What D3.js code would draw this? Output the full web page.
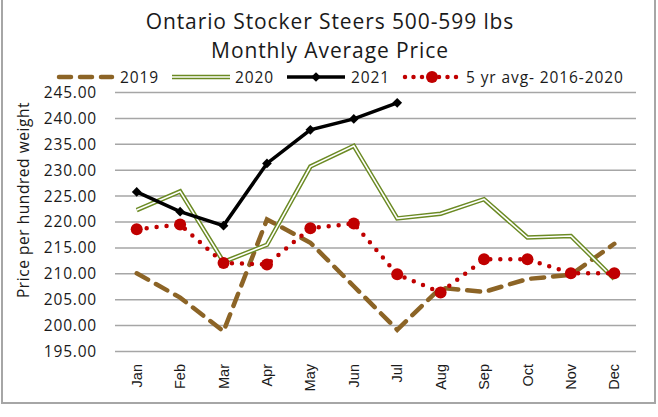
<!DOCTYPE html>
<html>
<head>
<meta charset="utf-8">
<script src="https://cdn.jsdelivr.net/npm/d3@7"></script>
<style>
  body { margin: 0; background: #fff; }
  svg { display: block; font-family: "Open Sans", sans-serif; }
</style>
</head>
<body>
<svg id="chart" width="658" height="417"></svg>
<script>
const months = ["Jan", "Feb", "Mar", "Apr", "May", "Jun", "Jul", "Aug", "Sep", "Oct", "Nov", "Dec"];
const yTicks = [195, 200, 205, 210, 215, 220, 225, 230, 235, 240, 245];
const y2019 = [210.1, 205.4, 198.9, 220.5, 216.0, 207.6, 199.2, 207.3, 206.5, 209.0, 209.8, 215.8];
const y2020 = [222.3, 225.9, 212.3, 215.6, 230.7, 234.7, 220.7, 221.6, 224.4, 217.0, 217.3, 209.0];
const y2021 = [225.8, 222.0, 219.3, 231.3, 237.8, 239.9, 243.0];
const yAvg = [218.6, 219.5, 212.1, 211.8, 218.8, 219.7, 209.9, 206.4, 212.8, 212.8, 210.1, 210.1];

const svg = d3.select("#chart");
const W = 658, H = 417;
const plot = { left: 115, right: 636, top: 92.5, bottom: 351.5 };
const font = "'Open Sans', sans-serif";

const x = d3.scaleBand().domain(months).range([plot.left, plot.right]);
const y = d3.scaleLinear().domain([195, 245]).range([plot.bottom, plot.top]);
const cx = m => x(m) + x.bandwidth() / 2;

// outer frame
svg.append("rect")
  .attr("x", 2).attr("y", -4).attr("width", W - 5).attr("height", 407)
  .attr("fill", "none").attr("stroke", "#a6a6a6").attr("stroke-width", 2);

// title
const title = svg.append("text").attr("text-anchor", "middle").attr("font-size", 21)
  .attr("letter-spacing", 0.9).attr("fill", "#1a1a1a");
title.append("tspan").attr("x", 330).attr("y", 29).text("Ontario Stocker Steers 500-599 lbs");
title.append("tspan").attr("x", 330).attr("y", 58).text("Monthly Average Price");

// gridlines
svg.append("g").selectAll("line").data(yTicks).join("line")
  .attr("x1", plot.left).attr("x2", plot.right)
  .attr("y1", d => y(d)).attr("y2", d => y(d))
  .attr("stroke", "#a6a6a6").attr("stroke-width", 1.5);

// y axis labels
const yAxis = svg.append("g")
  .attr("transform", `translate(${plot.left - 18},0)`)
  .call(d3.axisLeft(y).tickValues(yTicks).tickFormat(d3.format(".2f")).tickSize(0).tickPadding(0));
yAxis.select(".domain").remove();
yAxis.selectAll("text").attr("font-size", 15.5).attr("letter-spacing", 0.8)
  .attr("fill", "#1a1a1a").attr("font-family", font);

// x axis labels
const xAxis = svg.append("g")
  .attr("transform", `translate(0,${plot.bottom})`)
  .call(d3.axisBottom(x).tickSize(0).tickPadding(0));
xAxis.select(".domain").remove();
xAxis.selectAll("text")
  .attr("transform", "rotate(-90)")
  .attr("x", -12.5).attr("y", 0).attr("dy", "0.35em")
  .attr("text-anchor", "end")
  .attr("font-size", 14.5).attr("fill", "#1a1a1a").attr("font-family", "'Liberation Sans', Arial, sans-serif");

// y axis title
svg.append("text")
  .attr("transform", "translate(29,200) rotate(-90)")
  .attr("text-anchor", "middle").attr("font-size", 15.5).attr("letter-spacing", 0.55).attr("fill", "#1a1a1a")
  .text("Price per hundred weight");

const line = d3.line().x((d, i) => cx(months[i])).y(d => y(d));

// 2019 dashed
svg.append("path").attr("d", line(y2019))
  .attr("fill", "none").attr("stroke", "#8c6426").attr("stroke-width", 4.5)
  .attr("stroke-dasharray", "13 9").attr("stroke-linecap", "round");

// 2020 double line
svg.append("path").attr("d", line(y2020))
  .attr("fill", "none").attr("stroke", "#6b8a23").attr("stroke-width", 4.5);
svg.append("path").attr("d", line(y2020))
  .attr("fill", "none").attr("stroke", "#fff").attr("stroke-width", 1.6);

// 5 yr avg dotted with circles
svg.append("path").attr("d", line(yAvg))
  .attr("fill", "none").attr("stroke", "#c00000").attr("stroke-width", 4.5)
  .attr("stroke-dasharray", "0 10").attr("stroke-linecap", "round");
svg.append("g").selectAll("circle").data(yAvg).join("circle")
  .attr("cx", (d, i) => cx(months[i])).attr("cy", d => y(d)).attr("r", 6)
  .attr("fill", "#c00000");

// 2021 black with diamonds
svg.append("path").attr("d", line(y2021))
  .attr("fill", "none").attr("stroke", "#000").attr("stroke-width", 3.5);
const diamond = d3.symbol().type(d3.symbolDiamond2).size(60);
svg.append("g").selectAll("path").data(y2021).join("path")
  .attr("transform", (d, i) => `translate(${cx(months[i])},${y(d)})`)
  .attr("d", diamond).attr("fill", "#000");

// legend
const lg = svg.append("g").attr("font-size", 15.5).attr("letter-spacing", 0.9).attr("fill", "#1a1a1a");
const ly = 77;
lg.append("line").attr("x1", 59).attr("x2", 112).attr("y1", ly).attr("y2", ly)
  .attr("stroke", "#8c6426").attr("stroke-width", 4.5).attr("stroke-dasharray", "12 9").attr("stroke-linecap", "round");
lg.append("text").attr("x", 120).attr("y", ly + 5.5).text("2019");
lg.append("line").attr("x1", 172).attr("x2", 230).attr("y1", ly).attr("y2", ly)
  .attr("stroke", "#6b8a23").attr("stroke-width", 4.5);
lg.append("line").attr("x1", 172).attr("x2", 230).attr("y1", ly).attr("y2", ly)
  .attr("stroke", "#fff").attr("stroke-width", 1.6);
lg.append("text").attr("x", 235).attr("y", ly + 5.5).text("2020");
lg.append("line").attr("x1", 287).attr("x2", 345).attr("y1", ly).attr("y2", ly)
  .attr("stroke", "#000").attr("stroke-width", 3.5);
lg.append("path").attr("transform", `translate(316,${ly})`).attr("d", diamond).attr("fill", "#000");
lg.append("text").attr("x", 351).attr("y", ly + 5.5).text("2021");
lg.append("line").attr("x1", 405).attr("x2", 460).attr("y1", ly).attr("y2", ly)
  .attr("stroke", "#c00000").attr("stroke-width", 4.5).attr("stroke-dasharray", "0 8.5").attr("stroke-linecap", "round");
lg.append("circle").attr("cx", 432).attr("cy", ly).attr("r", 6).attr("fill", "#c00000");
lg.append("text").attr("x", 466).attr("y", ly + 5.5).text("5 yr avg- 2016-2020");
</script>
</body>
</html>
